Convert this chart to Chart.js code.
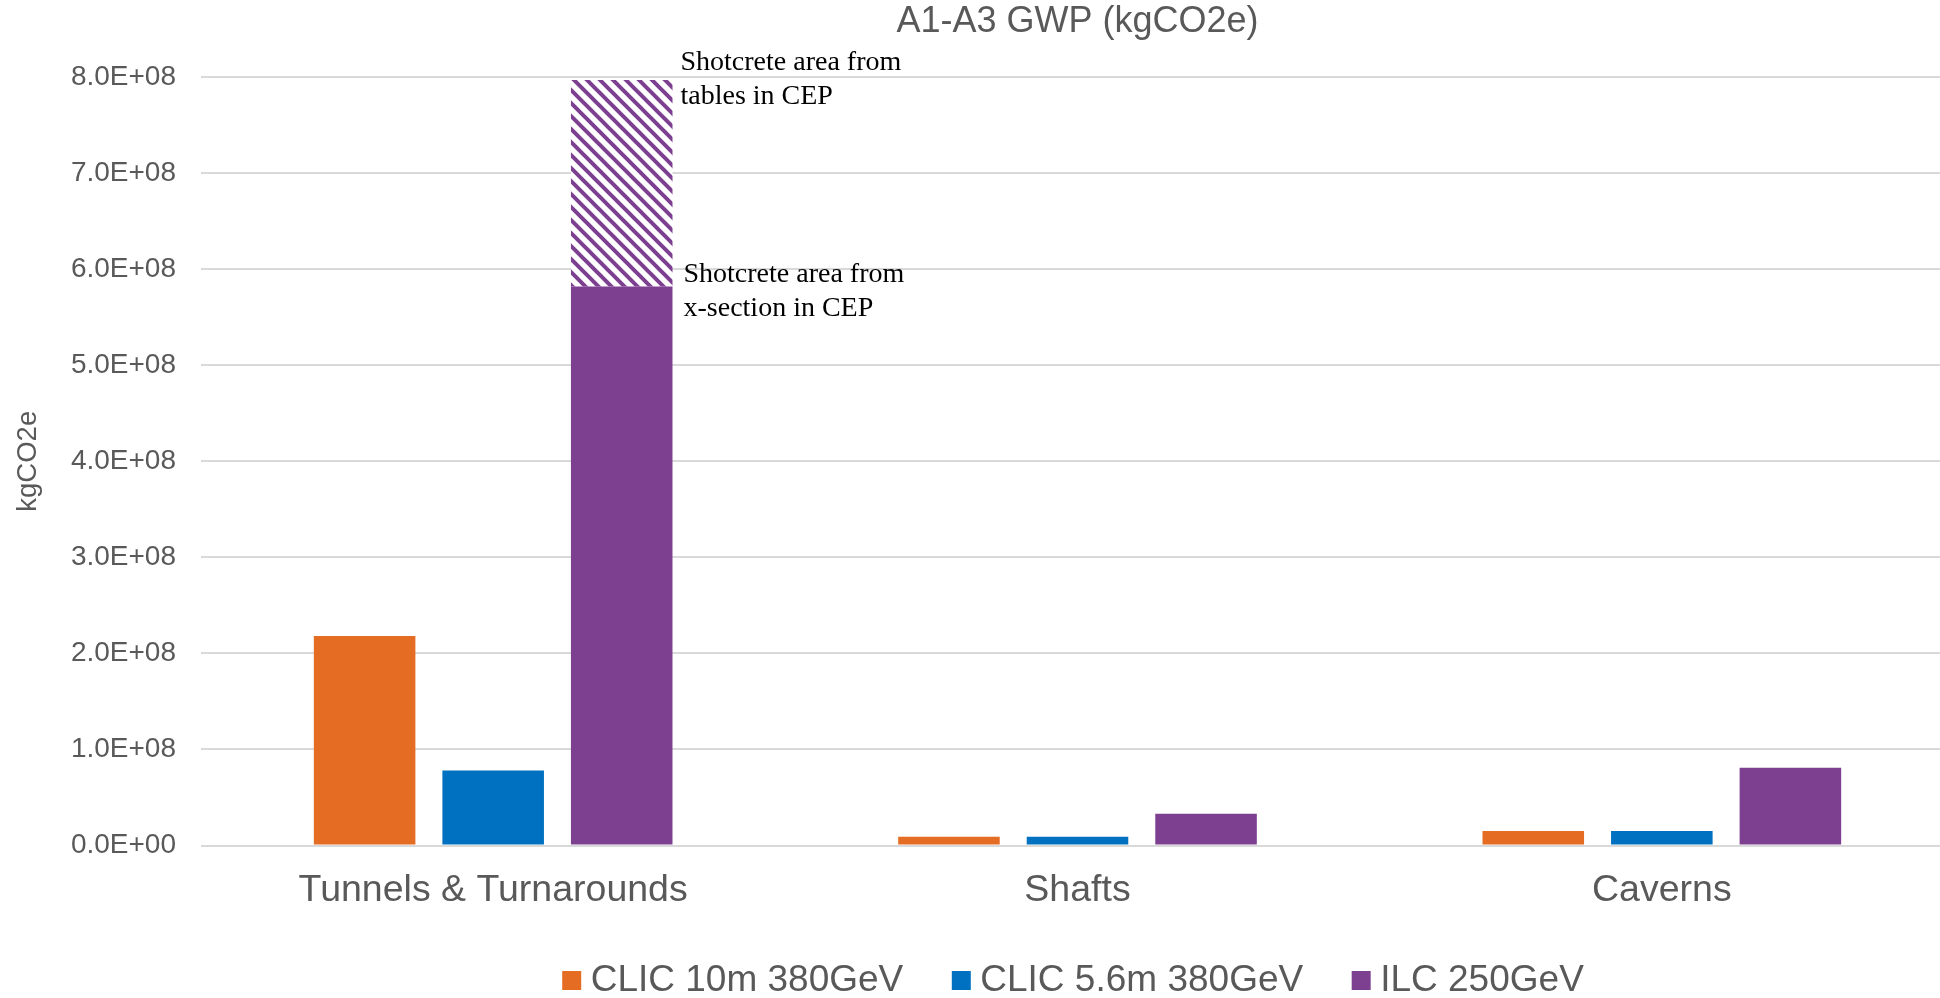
<!DOCTYPE html>
<html>
<head>
<meta charset="utf-8">
<script src="https://cdn.jsdelivr.net/npm/chart.js@4"></script>
<style>
  html, body { margin: 0; padding: 0; background: #fff; overflow: hidden; }
  #wrap { width: 1954px; height: 1009px; position: relative; }
</style>
</head>
<body>
<div id="wrap"><canvas id="gwpChart"></canvas></div>
<script>
let categories = ["Tunnels & Turnarounds", "Shafts", "Caverns"];
let clic10m = [2.18e8, 9.0e6, 1.5e7];
let clic56m = [7.8e7, 9.0e6, 1.5e7];
let ilc250 = [5.82e8, 3.3e7, 8.1e7];
let ilcShotcreteExtra = [2.15e8, null, null];
let seriesNames = ["CLIC 10m 380GeV", "CLIC 5.6m 380GeV", "ILC 250GeV"];
let yTickLabels = ["0.0E+00", "1.0E+08", "2.0E+08", "3.0E+08", "4.0E+08", "5.0E+08", "6.0E+08", "7.0E+08", "8.0E+08"];
let notes = [
  ["Shotcrete area from", "tables in CEP"],
  ["Shotcrete area from", "x-section in CEP"],
];

const gray = "#595959";
const orange = "#E56D23";
const blue = "#0070C0";
const purple = "#7D4091";

Chart.defaults.font.family = '"Liberation Sans", Arial, sans-serif';
Chart.defaults.color = gray;

// diagonal hatch for the extra shotcrete part
function makeHatch(color) {
  let s = 13;
  let c = document.createElement("canvas");
  c.width = s;
  c.height = s;
  let g = c.getContext("2d");
  g.fillStyle = "#fff";
  g.fillRect(0, 0, s, s);
  g.strokeStyle = color;
  g.lineWidth = 4;
  g.beginPath();
  g.moveTo(-3, -3); g.lineTo(s + 3, s + 3);
  g.moveTo(-3, s - 3); g.lineTo(3, s + 3);
  g.moveTo(s - 3, -3); g.lineTo(s + 3, 3);
  g.stroke();
  return g.createPattern(c, "repeat");
}

const shotcreteNotes = {
  id: "shotcreteNotes",
  afterDatasetsDraw(chart) {
    let ctx = chart.ctx;
    let hatched = chart.getDatasetMeta(3).data[0];
    let solid = chart.getDatasetMeta(2).data[0];
    ctx.save();
    ctx.font = '28px "Liberation Serif", "Times New Roman", serif';
    ctx.fillStyle = "#000";
    ctx.textAlign = "left";
    ctx.textBaseline = "alphabetic";
    let x1 = hatched.x + hatched.width / 2 + 8;
    ctx.fillText(notes[0][0], x1, hatched.y - 10);
    ctx.fillText(notes[0][1], x1, hatched.y + 24);
    let x2 = solid.x + solid.width / 2 + 11;
    ctx.fillText(notes[1][0], x2, solid.y - 4);
    ctx.fillText(notes[1][1], x2, solid.y + 30);
    ctx.restore();
  },
};

let ctx = document.getElementById("gwpChart").getContext("2d");
new Chart(ctx, {
  type: "bar",
  data: {
    labels: categories,
    datasets: [
      { label: seriesNames[0], data: clic10m, backgroundColor: orange, stack: "s1", borderWidth: 0 },
      { label: seriesNames[1], data: clic56m, backgroundColor: blue, stack: "s2", borderWidth: 0 },
      { label: seriesNames[2], data: ilc250, backgroundColor: purple, stack: "s3", borderWidth: 0 },
      { label: "", data: ilcShotcreteExtra, backgroundColor: makeHatch(purple), stack: "s3", borderWidth: 0 },
    ],
  },
  options: {
    responsive: true,
    maintainAspectRatio: false,
    animation: false,
    datasets: {
      bar: { categoryPercentage: 0.66, barPercentage: 0.79 },
    },
    layout: { padding: 0 },
    plugins: {
      tooltip: { enabled: false },
      title: {
        display: true,
        text: "A1-A3 GWP (kgCO2e)",
        fullSize: false,
        color: gray,
        font: { size: 36, weight: "normal" },
        padding: { top: 0.5, bottom: 33.3 },
      },
      legend: {
        position: "bottom",
        fullSize: false,
        labels: {
          color: gray,
          font: { size: 37 },
          usePointStyle: true,
          pointStyle: "rect",
          boxWidth: 1,
          boxHeight: 19,
          padding: 57.5,
          filter: (item) => item.datasetIndex < 3,
        },
      },
    },
    scales: {
      x: {
        stacked: true,
        afterFit: (scale) => {
          scale.height = 59;
        },
        grid: { display: false, drawTicks: false },
        border: { display: false },
        ticks: { color: gray, font: { size: 37.5 }, padding: 22.5 },
      },
      y: {
        stacked: true,
        min: 0,
        max: 8e8,
        afterFit: (scale) => {
          scale.width = 201;
        },
        grid: { color: "#D9D9D9", lineWidth: 2, drawTicks: false },
        border: { display: false },
        ticks: {
          stepSize: 1e8,
          color: gray,
          font: { size: 28 },
          padding: 25,
          callback: (value, index) => yTickLabels[index],
        },
        title: {
          display: true,
          text: "kgCO2e",
          color: gray,
          font: { size: 27.5 },
          padding: { top: 12, bottom: 4 },
        },
      },
    },
  },
  plugins: [shotcreteNotes],
});
</script>
</body>
</html>
